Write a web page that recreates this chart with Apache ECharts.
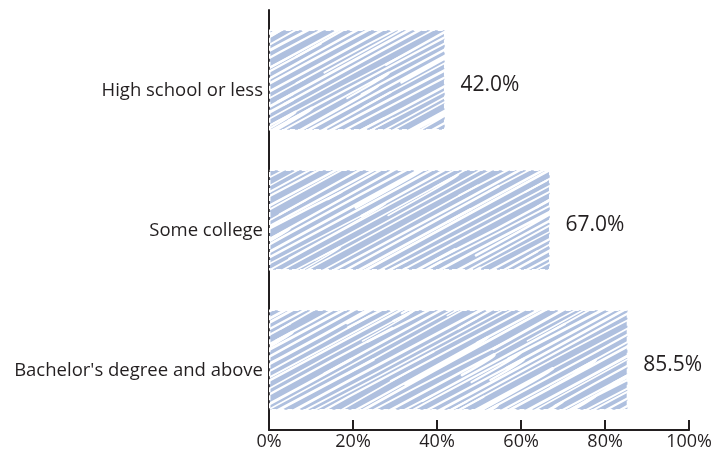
<!DOCTYPE html>
<html>
<head>
<meta charset="utf-8">
<script src="https://cdn.jsdelivr.net/npm/echarts@6/dist/echarts.min.js"></script>
<style>
  html, body { margin: 0; padding: 0; background: #ffffff; }
  #chart { width: 715px; height: 454px; }
</style>
</head>
<body>
<div id="chart"></div>
<script>
// Share of respondents by education level
var categories = ['High school or less', 'Some college', "Bachelor's degree and above"];
var shares = [42.0, 67.0, 85.5];
var tickValues = [0, 20, 40, 60, 80, 100];

var FONT = '"Open Sans", "Noto Sans", sans-serif';
var INK = '#231f20';
var FILL = '#afc0df';

// Hand-drawn hatch texture: wandering white diagonal pen strokes over the bar colour.
// The texture is as large as the chart, so it never visibly repeats.
function makeScribble(W, H) {
  var c = document.createElement('canvas');
  c.width = W; c.height = H;
  var ctx = c.getContext('2d');
  ctx.fillStyle = FILL;
  ctx.fillRect(0, 0, W, H);
  var seed = 41;
  function rnd() { seed = (seed * 16807) % 2147483647; return (seed - 1) / 2147483646; }
  ctx.strokeStyle = '#ffffff';
  ctx.lineCap = 'round';
  ctx.lineJoin = 'round';
  var slope = -0.54;
  var step = 6.6;
  for (var y0 = 0; y0 < H - slope * W + 10; y0 += step) {
    var x = -10 - rnd() * 60;
    var prevJ = (rnd() - 0.5) * 5;
    while (x < W + 10) {
      var L = 120 + rnd() * 240;
      var j2 = (rnd() - 0.5) * 5;
      var xa = x, ya = y0 + slope * xa + prevJ;
      var xb = x + L, yb = y0 + slope * xb + j2;
      var cx = (xa + xb) / 2, cy = (ya + yb) / 2 + (rnd() - 0.5) * 6;
      ctx.lineWidth = 1.5 + rnd() * 1.4;
      ctx.beginPath();
      ctx.moveTo(xa, ya);
      ctx.quadraticCurveTo(cx, cy, xb, yb);
      if (rnd() < 0.45) {
        // a quick doubled-back flick at the end of the stroke
        var back = 30 + rnd() * 90;
        ctx.quadraticCurveTo(xb + 4, yb + 0.5, xb - back, yb - slope * back + step * 0.5);
      }
      ctx.stroke();
      prevJ = j2;
      x = xb - 8 - rnd() * 20;
    }
  }
  return c;
}

var chart = echarts.init(document.getElementById('chart'), null, { renderer: 'canvas' });

chart.setOption({
  backgroundColor: '#ffffff',
  animation: false,
  grid: { left: 269, right: 25, top: 10, bottom: 24, containLabel: false },
  xAxis: {
    type: 'value',
    min: 0,
    max: 100,
    interval: 20,
    axisLine: { show: true, lineStyle: { color: INK, width: 2 } },
    axisTick: { show: true, inside: true, length: 10, lineStyle: { color: INK, width: 2 } },
    splitLine: { show: false },
    axisLabel: {
      color: INK, fontFamily: FONT, fontSize: 18, margin: 3,
      formatter: function (v) { return tickValues.indexOf(v) >= 0 ? v + '%' : ''; }
    }
  },
  yAxis: {
    type: 'category',
    data: categories,
    inverse: true,
    axisLine: { show: true, lineStyle: { color: INK, width: 2 } },
    axisTick: { show: false },
    axisLabel: {
      color: INK, fontFamily: FONT, fontSize: 18.5, margin: 6,
      verticalAlign: 'top', lineHeight: 22
    }
  },
  series: [{
    type: 'bar',
    data: shares,
    barCategoryGap: '28%',
    itemStyle: {
      color: { image: makeScribble(715, 454), repeat: 'repeat' },
      borderColor: '#ffffff',
      borderWidth: 1.5,
      borderType: [5, 3]
    },
    label: {
      show: true,
      position: 'right',
      distance: 15,
      offset: [0, 5],
      color: INK,
      fontFamily: FONT,
      fontSize: 21,
      formatter: function (p) { return p.value.toFixed(1) + '%'; }
    }
  }]
});
</script>
</body>
</html>
